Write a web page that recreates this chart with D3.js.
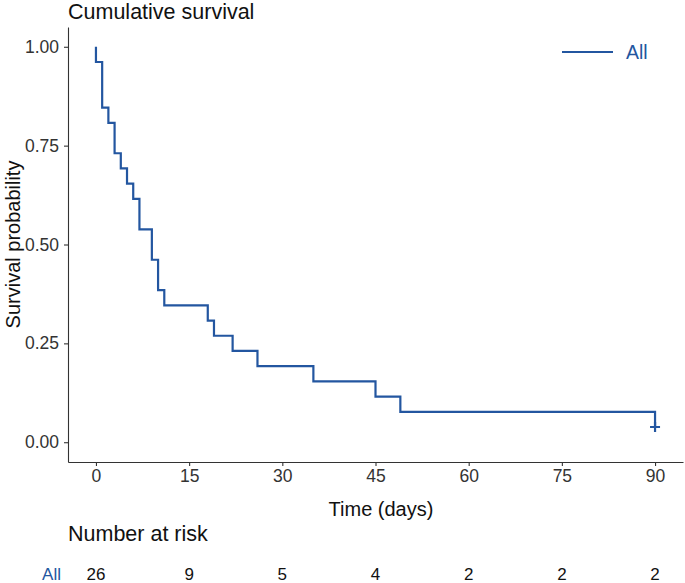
<!DOCTYPE html>
<html>
<head>
<meta charset="utf-8">
<script src="https://cdn.jsdelivr.net/npm/d3@7"></script>
<style>
	body { margin: 0; background: #fff; }
	svg text { font-family: "Liberation Sans", Arial, sans-serif; }
</style>
</head>
<body>
<svg id="chart" width="685" height="583"></svg>
<script>
// Kaplan-Meier curve, all patients (n = 26)
var stepTimes = [0, 0, 1, 2, 3, 4, 5, 6, 7, 9, 10, 11, 18, 19, 22, 26, 35, 45, 49, 90];
var stepSurv  = [1, 0.9615, 0.8462, 0.8077, 0.7308, 0.6923, 0.6538, 0.6154, 0.5385, 0.4615,
				 0.3846, 0.3462, 0.3077, 0.2692, 0.2308, 0.1923, 0.1538, 0.1154, 0.0769, 0.0385];
var censorTimes = [90];
var censorSurv  = [0.0385];

var xTicks = [0, 15, 30, 45, 60, 75, 90];
var yTicks = [0, 0.25, 0.5, 0.75, 1];
var atRisk = [26, 9, 5, 4, 2, 2, 2];
var groupName = "All";

var blue = "#2356a0";
var ink = "#333333";

var svg = d3.select("#chart");

	// panel bounds (ggplot style 5% expansion)
var x = d3.scaleLinear().domain([-4.5, 94.5]).range([68, 683]);
var y = d3.scaleLinear().domain([-0.05, 1.05]).range([462, 27]);

	// title
svg.append("text")
	.attr("x", 68).attr("y", 19)
	.attr("font-size", 21.5).attr("fill", "#111")
	.text("Cumulative survival");

	// axes
var xAxis = svg.append("g")
	.attr("transform", "translate(0," + y.range()[0] + ")")
	.call(d3.axisBottom(x).tickValues(xTicks).tickSize(4).tickPadding(4).tickSizeOuter(0));
var yAxis = svg.append("g")
	.attr("transform", "translate(" + x.range()[0] + ",0)")
	.call(d3.axisLeft(y).tickValues(yTicks).tickFormat(d3.format(".2f")).tickSize(4).tickPadding(5).tickSizeOuter(0));

[xAxis, yAxis].forEach(function(g) {
	g.select(".domain").attr("stroke", ink).attr("stroke-width", 1.1);
	g.selectAll(".tick line").attr("stroke", ink).attr("stroke-width", 1.1);
	g.selectAll(".tick text").attr("fill", ink).attr("font-size", 17.5)
		.attr("font-family", "Liberation Sans, Arial, sans-serif");
});

	// axis titles
svg.append("text")
	.attr("x", 381).attr("y", 516)
	.attr("text-anchor", "middle").attr("font-size", 20).attr("fill", "#111")
	.text("Time (days)");
svg.append("text")
	.attr("transform", "translate(20," + y(0.5) + ") rotate(-90)")
	.attr("text-anchor", "middle").attr("font-size", 20).attr("fill", "#111")
	.text("Survival probability");

	// step curve
var pts = stepTimes.map(function(t, i) { return [t, stepSurv[i]]; });
var line = d3.line()
	.x(function(d) { return x(d[0]); })
	.y(function(d) { return y(d[1]); })
	.curve(d3.curveStepAfter);
svg.append("path")
	.datum(pts)
	.attr("d", line)
	.attr("fill", "none")
	.attr("stroke", blue)
	.attr("stroke-width", 2.2);

	// censor marks
censorTimes.forEach(function(t, i) {
	var cx = x(t), cy = y(censorSurv[i]);
	svg.append("path")
		.attr("d", "M" + (cx - 5) + "," + cy + "H" + (cx + 5) + "M" + cx + "," + (cy - 5) + "V" + (cy + 5))
		.attr("stroke", blue).attr("stroke-width", 2.2).attr("fill", "none");
});

	// legend
svg.append("line")
	.attr("x1", 562).attr("x2", 613).attr("y1", 52).attr("y2", 52)
	.attr("stroke", blue).attr("stroke-width", 2.2);
svg.append("text")
	.attr("x", 626).attr("y", 59)
	.attr("font-size", 19.5).attr("fill", blue)
	.text(groupName);

	// risk table
svg.append("text")
	.attr("x", 68).attr("y", 541)
	.attr("font-size", 21.5).attr("fill", "#111")
	.text("Number at risk");
svg.append("text")
	.attr("x", 61).attr("y", 580)
	.attr("text-anchor", "end").attr("font-size", 17).attr("fill", blue)
	.text(groupName);
svg.selectAll(".risk")
	.data(atRisk)
	.enter()
	.append("text")
	.attr("class", "risk")
	.attr("x", function(d, i) { return x(xTicks[i]); })
	.attr("y", 580)
	.attr("text-anchor", "middle").attr("font-size", 17).attr("fill", "#111")
	.text(function(d) { return d; });
</script>
</body>
</html>
